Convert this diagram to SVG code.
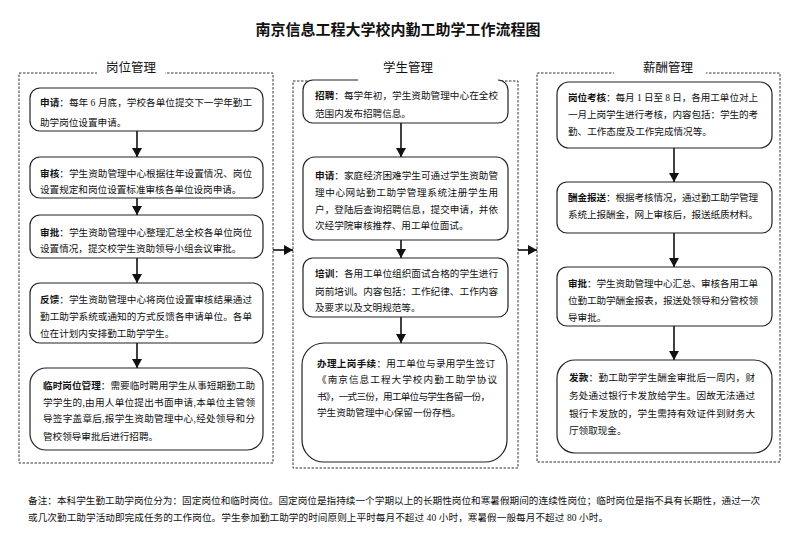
<svg xmlns="http://www.w3.org/2000/svg" width="795" height="534" viewBox="0 0 795 534">
<style>
.t{font-family:"Liberation Serif","Noto Sans CJK SC",serif;font-size:9.6px;fill:#111}
.b{font-weight:bold}
.box{fill:#fff;stroke:#222;stroke-width:1.2}
.cont{fill:none;stroke:#333;stroke-width:1;stroke-dasharray:2.5 1.5}
.lab{font-family:"Noto Sans CJK SC",sans-serif;font-size:12.5px;fill:#111}
.title{font-family:"Noto Sans CJK SC",sans-serif;font-size:15px;font-weight:bold;fill:#111}
.arr{stroke:#111;stroke-width:1.6;fill:none;marker-end:url(#ah)}
.wb{fill:#fff}
</style>
<defs>
<marker id="ah" markerUnits="userSpaceOnUse" markerWidth="9" markerHeight="10" viewBox="0 0 9 10" refX="9" refY="5" orient="auto">
<path d="M0,0 L9,5 L0,10 z" fill="#111"/>
</marker>
</defs>
<rect width="795" height="534" fill="#fff"/>
<text class="title" x="398" y="35" text-anchor="middle">南京信息工程大学校内勤工助学工作流程图</text>

<g id="container-post">
<rect class="cont" x="19" y="73" width="254" height="390"/>
<rect class="wb" x="97" y="60" width="68" height="20"/>
<text class="lab" x="131" y="72" text-anchor="middle">岗位管理</text>
</g>
<g id="container-student">
<rect class="cont" x="293" y="81" width="225" height="387"/>
</g>
<g id="container-pay">
<rect class="cont" x="537" y="73" width="243" height="389"/>
<rect class="wb" x="614" y="60" width="92" height="20"/>
<text class="lab" x="668" y="72" text-anchor="middle">薪酬管理</text>
</g>

<g id="connectors">
<line class="arr" x1="137" y1="131" x2="137" y2="157"/>
<line class="arr" x1="137" y1="198" x2="137" y2="215"/>
<line class="arr" x1="137" y1="258" x2="137" y2="283"/>
<line class="arr" x1="137" y1="343" x2="137" y2="368"/>
<line class="arr" x1="401" y1="123" x2="401" y2="157"/>
<line class="arr" x1="401" y1="240" x2="401" y2="258"/>
<line class="arr" x1="401" y1="317" x2="401" y2="343"/>
<line class="arr" x1="674" y1="148" x2="674" y2="182"/>
<line class="arr" x1="674" y1="233" x2="674" y2="267"/>
<line class="arr" x1="674" y1="326" x2="674" y2="360"/>
<line class="arr" x1="273" y1="250" x2="293" y2="250"/>
<line class="arr" x1="518" y1="250" x2="537" y2="250"/>
</g>

<g id="post-apply">
<rect class="box" x="30" y="88" width="233" height="43" rx="10"/>
<text class="t" x="40" y="106" textLength="212" lengthAdjust="spacing"><tspan class="b">申请</tspan>：每年 6 月底，学校各单位提交下一学年勤工</text>
<text class="t" x="40" y="126">助学岗位设置申请。</text>
</g>
<g id="post-review">
<rect class="box" x="30" y="157" width="233" height="41" rx="10"/>
<text class="t" x="40" y="176.5" textLength="212" lengthAdjust="spacing"><tspan class="b">审核</tspan>：学生资助管理中心根据往年设置情况、岗位</text>
<text class="t" x="40" y="193">设置规定和岗位设置标准审核各单位设岗申请。</text>
</g>
<g id="post-approve">
<rect class="box" x="30" y="215" width="233" height="43" rx="10"/>
<text class="t" x="40" y="235.5" textLength="212" lengthAdjust="spacing"><tspan class="b">审批</tspan>：学生资助管理中心整理汇总全校各单位岗位</text>
<text class="t" x="40" y="251.5">设置情况，提交校学生资助领导小组会议审批。</text>
</g>
<g id="post-feedback">
<rect class="box" x="30" y="283" width="233" height="60" rx="10"/>
<text class="t" x="40" y="303" textLength="212" lengthAdjust="spacing"><tspan class="b">反馈</tspan>：学生资助管理中心将岗位设置审核结果通过</text>
<text class="t" x="40" y="320" textLength="212" lengthAdjust="spacing">勤工助学系统或通知的方式反馈各申请单位。各单</text>
<text class="t" x="40" y="336.5">位在计划内安排勤工助学学生。</text>
</g>
<g id="post-temp">
<rect class="box" x="30" y="368" width="233" height="82" rx="16"/>
<text class="t" x="43" y="389" textLength="212" lengthAdjust="spacing"><tspan class="b">临时岗位管理</tspan>：需要临时聘用学生从事短期勤工助</text>
<text class="t" x="43" y="405.5" textLength="212" lengthAdjust="spacing">学学生的,由用人单位提出书面申请,本单位主管领</text>
<text class="t" x="43" y="422" textLength="212" lengthAdjust="spacing">导签字盖章后,报学生资助管理中心,经处领导和分</text>
<text class="t" x="43" y="440">管校领导审批后进行招聘。</text>
</g>

<g id="stu-recruit">
<rect class="box" x="303" y="80" width="205" height="43" rx="10"/>
<rect class="wb" x="358" y="60" width="140" height="24"/>
<text class="lab" x="408" y="72" text-anchor="middle">学生管理</text>
<text class="t" x="315" y="99" textLength="183" lengthAdjust="spacing"><tspan class="b">招聘</tspan>：每学年初，学生资助管理中心在全校</text>
<text class="t" x="315" y="117">范围内发布招聘信息。</text>
</g>
<g id="stu-apply">
<rect class="box" x="303" y="157" width="205" height="83" rx="12"/>
<text class="t" x="315" y="179" textLength="183" lengthAdjust="spacing"><tspan class="b">申请</tspan>：家庭经济困难学生可通过学生资助管</text>
<text class="t" x="315" y="196" textLength="183" lengthAdjust="spacing">理中心网站勤工助学管理系统注册学生用</text>
<text class="t" x="315" y="213" textLength="183" lengthAdjust="spacing">户，登陆后查询招聘信息，提交申请，并依</text>
<text class="t" x="315" y="229">次经学院审核推荐、用工单位面试。</text>
</g>
<g id="stu-train">
<rect class="box" x="303" y="258" width="205" height="59" rx="10"/>
<text class="t" x="315" y="277" textLength="183" lengthAdjust="spacing"><tspan class="b">培训</tspan>：各用工单位组织面试合格的学生进行</text>
<text class="t" x="315" y="294.5" textLength="183" lengthAdjust="spacing">岗前培训。内容包括：工作纪律、工作内容</text>
<text class="t" x="315" y="311">及要求以及文明规范等。</text>
</g>
<g id="stu-onboard">
<rect class="box" x="302" y="343" width="205" height="119" rx="22"/>
<text class="t" x="317" y="367" textLength="178" lengthAdjust="spacing"><tspan class="b">办理上岗手续</tspan>：用工单位与录用学生签订</text>
<text class="t" x="317" y="383" textLength="180" lengthAdjust="spacing">《南京信息工程大学校内勤工助学协议</text>
<text class="t" x="317" y="400" textLength="173" lengthAdjust="spacing">书》，一式三份，用工单位与学生各留一份，</text>
<text class="t" x="317" y="416">学生资助管理中心保留一份存档。</text>
</g>

<g id="pay-assess">
<rect class="box" x="557" y="82" width="215" height="66" rx="12"/>
<text class="t" x="568" y="101" textLength="190" lengthAdjust="spacing"><tspan class="b">岗位考核</tspan>：每月 1 日至 8 日，各用工单位对上</text>
<text class="t" x="568" y="117.5" textLength="190" lengthAdjust="spacing">一月上岗学生进行考核，内容包括：学生的考</text>
<text class="t" x="568" y="134.5">勤、工作态度及工作完成情况等。</text>
</g>
<g id="pay-report">
<rect class="box" x="557" y="182" width="215" height="51" rx="10"/>
<text class="t" x="568" y="201" textLength="190" lengthAdjust="spacing"><tspan class="b">酬金报送</tspan>：根据考核情况，通过勤工助学管理</text>
<text class="t" x="568" y="218" textLength="190" lengthAdjust="spacing">系统上报酬金，网上审核后，报送纸质材料。</text>
</g>
<g id="pay-approve">
<rect class="box" x="557" y="267" width="215" height="59" rx="10"/>
<text class="t" x="568" y="287" textLength="190" lengthAdjust="spacing"><tspan class="b">审批</tspan>：学生资助管理中心汇总、审核各用工单</text>
<text class="t" x="568" y="304" textLength="190" lengthAdjust="spacing">位勤工助学酬金报表，报送处领导和分管校领</text>
<text class="t" x="568" y="321">导审批。</text>
</g>
<g id="pay-issue">
<rect class="box" x="557" y="360" width="215" height="93" rx="18"/>
<text class="t" x="569" y="381" textLength="186" lengthAdjust="spacing"><tspan class="b">发款</tspan>：勤工助学学生酬金审批后一周内，财</text>
<text class="t" x="569" y="399" textLength="186" lengthAdjust="spacing">务处通过银行卡发放给学生。因故无法通过</text>
<text class="t" x="569" y="417" textLength="186" lengthAdjust="spacing">银行卡发放的，学生需持有效证件到财务大</text>
<text class="t" x="569" y="434">厅领取现金。</text>
</g>

<g id="note">
<text class="t" x="28" y="504" textLength="732" lengthAdjust="spacing">备注：本科学生勤工助学岗位分为：固定岗位和临时岗位。固定岗位是指持续一个学期以上的长期性岗位和寒暑假期间的连续性岗位；临时岗位是指不具有长期性，通过一次</text>
<text class="t" x="28" y="521" textLength="580" lengthAdjust="spacing">或几次勤工助学活动即完成任务的工作岗位。学生参加勤工助学的时间原则上平时每月不超过 40 小时，寒暑假一般每月不超过 80 小时。</text>
</g>
</svg>
